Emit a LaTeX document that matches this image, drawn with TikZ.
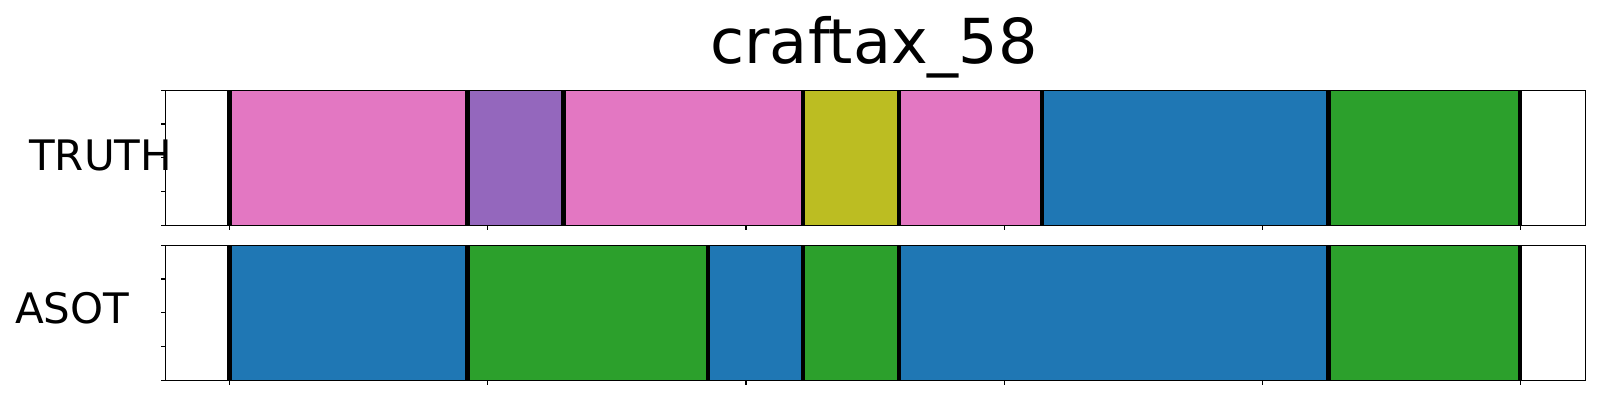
\documentclass[tikz,border=0pt]{standalone}
\usepackage{fontspec}
\setmainfont{DejaVu Sans}
\definecolor{tpink}{HTML}{E377C2}
\definecolor{tpurple}{HTML}{9467BD}
\definecolor{tolive}{HTML}{BCBD22}
\definecolor{tblue}{HTML}{1F77B4}
\definecolor{tgreen}{HTML}{2CA02C}
\begin{document}
\begin{tikzpicture}[x=1pt,y=-1pt,
  frame/.style={draw=black,line width=1.1pt},
  bound/.style={draw=black,line width=4.1pt},
  tickmark/.style={draw=black,line width=1.1pt},
  seg/.style={draw=none}]
\useasboundingbox (0,0) rectangle (1600,400);
\fill[white] (0,0) rectangle (1600,400);
% title and labels
\node[font=\fontsize{62}{72}\selectfont,anchor=base,inner sep=0] (title) at (874,63.3) {craftax\_58};
\node[font=\fontsize{42}{50}\selectfont,anchor=base west,inner sep=0] (lt) at (29,170) {TRUTH};
\node[font=\fontsize{42}{50}\selectfont,anchor=base west,inner sep=0] (lb) at (15,323) {ASOT};
% top axis segments
\fill[tpink]   (229.5,90.3) rectangle (467.5,225.3);
\fill[tpurple] (467.5,90.3) rectangle (563.5,225.3);
\fill[tpink]   (563.5,90.3) rectangle (803,225.3);
\fill[tolive]  (803,90.3) rectangle (898.7,225.3);
\fill[tpink]   (898.7,90.3) rectangle (1042,225.3);
\fill[tblue]   (1042,90.3) rectangle (1328.5,225.3);
\fill[tgreen]  (1328.5,90.3) rectangle (1520,225.3);
% bottom axis segments
\fill[tblue]   (229.5,245.3) rectangle (467.5,380.3);
\fill[tgreen]  (467.5,245.3) rectangle (707.7,380.3);
\fill[tblue]   (707.7,245.3) rectangle (803,380.3);
\fill[tgreen]  (803,245.3) rectangle (898.7,380.3);
\fill[tblue]   (898.7,245.3) rectangle (1328.5,380.3);
\fill[tgreen]  (1328.5,245.3) rectangle (1520,380.3);
% boundaries
\foreach \x in {229.5,467.5,563.5,803,898.7,1042,1328.5,1520}
  \draw[bound] (\x,90.3) -- (\x,225.3);
\foreach \x in {229.5,467.5,707.7,803,898.7,1328.5,1520}
  \draw[bound] (\x,245.3) -- (\x,380.3);
% frames
\draw[frame] (165.7,90.3) rectangle (1585.7,225.3);
\draw[frame] (165.7,245.3) rectangle (1585.7,380.3);
% ticks
\foreach \y in {90.3,124,157.8,191.5,225.3,245.3,279,312.8,346.5,380.3}
  \draw[tickmark] (165.7,\y) -- (160.8,\y);
\foreach \x in {229.5,487.8,746,1004.3,1262.3,1520.3}{
  \draw[tickmark] (\x,225.3) -- (\x,230.2);
  \draw[tickmark] (\x,380.3) -- (\x,385.2);
}
\end{tikzpicture}
\end{document}
